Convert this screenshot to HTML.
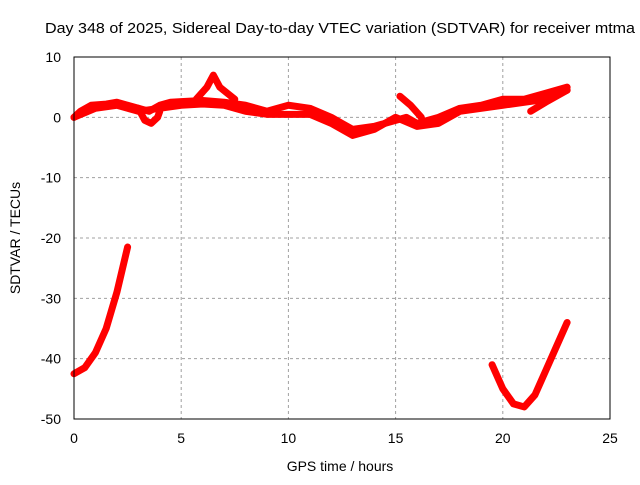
<!DOCTYPE html>
<html><head><meta charset="utf-8"><style>
body{margin:0;background:#fff}
svg text{font-family:"Liberation Sans",sans-serif;font-size:14px;fill:#000}
</style></head><body>
<svg id="chart" width="640" height="480" viewBox="0 0 640 480" xmlns="http://www.w3.org/2000/svg">
<text x="45" y="33" textLength="590" lengthAdjust="spacingAndGlyphs" style="font-size:15px">Day 348 of 2025, Sidereal Day-to-day VTEC variation (SDTVAR) for receiver mtma</text>
<g id="grid"></g>
<g id="ticks"></g>
<g id="series"></g>
<rect x="74" y="57" width="536" height="362" fill="none" stroke="#000" stroke-width="1"/>
<text x="340" y="471" text-anchor="middle">GPS time / hours</text>
<text transform="translate(20,238) rotate(-90)" text-anchor="middle">SDTVAR / TECUs</text>
</svg>
<script>
const xTicks=[0,5,10,15,20,25];
const yTicks=[10,0,-10,-20,-30,-40,-50];
const bandUpper=[[0,0],[0.3,1],[0.8,2],[1.5,2.2],[2,2.5],[2.5,2],[3,1.5],[3.5,1],[4,2],[4.5,2.5],[5,2.6],[6,2.8],[7,2.5],[8,2],[9,1],[10,2],[11,1.5],[12,0],[12.5,-1],[13,-2],[14,-1.5],[15,-0.5],[15.5,0],[16,-1],[17,0],[18,1.5],[19,2],[20,3],[21,3],[22,4],[23,5]];
const bandLower=[[0,0],[1,1.5],[2,2],[3,1],[4,1.5],[5,2],[6,2.2],[7,2],[8,1],[9,0.5],[10,0.5],[11,0.5],[12,-1],[13,-3],[14,-2],[15,0],[16,-1.5],[17,-1],[18,1],[19,1.5],[20,2],[21,2.5],[22,3],[23,4.5]];
const spike=[[5.7,3],[6.2,5],[6.5,7],[6.8,5],[7.5,3]];
const loopA=[[3.0,1.5],[3.3,-0.5],[3.6,-1],[3.9,0],[4.0,1]];
const branchB=[[15.2,3.5],[15.7,2],[16.2,0]];
const branchC=[[21.3,1],[22,2.5],[23,4.5]];
const descLeft=[[0,-42.5],[0.5,-41.5],[1,-39],[1.5,-35],[2,-29],[2.5,-21.5]];
const arcRight=[[19.5,-41],[20,-45],[20.5,-47.5],[21,-48],[21.5,-46],[22,-42],[22.5,-38],[23,-34]];
const NS="http://www.w3.org/2000/svg";
const X=v=>74+v*536/25, Y=v=>57+(10-v)*362/60;
const grid=document.getElementById('grid'),ticks=document.getElementById('ticks'),ser=document.getElementById('series');
function mk(t,a,p){const e=document.createElementNS(NS,t);for(const k in a)e.setAttribute(k,a[k]);p.appendChild(e);return e;}
xTicks.forEach(v=>{const x=X(v);
 if(v>0&&v<25){const l=mk('line',{x1:x,x2:x,y1:57,y2:419,stroke:'#a0a0a0','stroke-dasharray':'3,3'},grid);}
 const t=mk('text',{x:x,y:443,'text-anchor':'middle'},ticks);t.textContent=v;
 
 
});
yTicks.forEach(v=>{const y=Y(v);
 if(v<10&&v>-50){const l=mk('line',{x1:74,x2:610,y1:y,y2:y,stroke:'#a0a0a0','stroke-dasharray':'3,3'},grid);}
 const t=mk('text',{x:61,y:y+5,'text-anchor':'end'},ticks);t.textContent=v;
 
 
});
const all={'band-upper':bandUpper,'band-lower':bandLower,'spike':spike,'loop-a':loopA,'branch-b':branchB,'branch-c':branchC,'desc-left':descLeft,'arc-right':arcRight};
for(const n in all){const p=mk('polyline',{points:all[n].map(d=>X(d[0])+','+Y(d[1])).join(' '),fill:'none',stroke:'#ff0000','stroke-width':7,'stroke-linejoin':'round','stroke-linecap':'round'},ser);
 
 
}
</script>
</body></html>
